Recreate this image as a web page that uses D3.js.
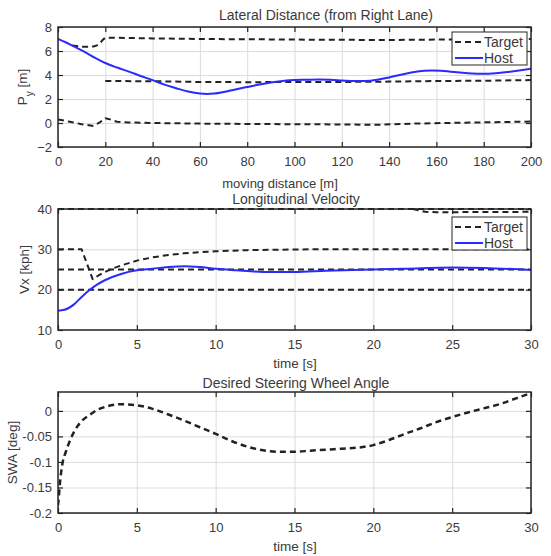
<!DOCTYPE html>
<html>
<head>
<meta charset="utf-8">
<script src="https://cdn.jsdelivr.net/npm/d3@7"></script>
<style>
  html, body { margin: 0; padding: 0; background: #ffffff; }
  svg { display: block; font-family: "Liberation Sans", Arial, sans-serif; }
</style>
</head>
<body>
<svg id="chart" width="551" height="556"></svg>
<script>
// ---------------- DATA ----------------
// Panel 1: Lateral Distance (from Right Lane)
const hostDist = [0,5,10,15,20,25,30,35,40,45,50,55,60,63,66,70,75,80,85,90,95,100,105,110,115,120,125,130,135,140,145,150,155,158,162,166,170,175,180,185,190,195,200];
const hostPy   = [7.0,6.55,6.05,5.5,5.0,4.62,4.28,3.92,3.57,3.2,2.9,2.62,2.45,2.42,2.45,2.58,2.8,3.0,3.2,3.38,3.5,3.58,3.6,3.62,3.6,3.55,3.5,3.5,3.6,3.8,4.02,4.22,4.35,4.38,4.36,4.28,4.2,4.12,4.1,4.15,4.25,4.38,4.52];

const tgtUpperDist = [6,10,13,15,17,18,19,20,25,40,60,80,100,120,140,160,180,200];
const tgtUpperPy   = [6.45,6.35,6.35,6.38,6.5,6.7,6.95,7.1,7.1,7.05,7.0,6.98,6.95,6.93,6.92,6.95,6.98,7.0];
const tgtMidDist   = [20,40,60,80,100,120,140,160,180,200];
const tgtMidPy     = [3.5,3.48,3.42,3.4,3.42,3.42,3.45,3.5,3.52,3.58];
const tgtLowDist   = [0,5,10,15,18,20,22,25,30,40,60,80,100,120,135,150,170,200];
const tgtLowPy     = [0.3,0.1,-0.1,-0.25,0.1,0.4,0.3,0.1,0.05,0.0,-0.05,-0.08,-0.1,-0.12,-0.15,-0.05,0.02,0.12];

const distTicks = [0,20,40,60,80,100,120,140,160,180,200];
const pyTicks   = [-2,0,2,4,6,8];

// Panel 2: Longitudinal Velocity
const hostTime = [0,0.4,1,1.5,2,2.5,3,4,5,6,7,8,9,10,11,12,13,15,17,20,22,25,27,30];
const hostVx   = [14.8,15.0,16.3,18.2,19.9,21.3,22.4,23.9,24.8,25.2,25.6,25.8,25.6,25.2,24.9,24.6,24.4,24.4,24.7,25.0,25.2,25.5,25.4,24.9];

const tgt40Time = [0,30];
const tgt40Vx   = [40,40];
const tgt39Time = [22.5,23.3,24,30];
const tgt39Vx   = [40,39.3,39.2,39.3];
const tgt30Time = [0,1.5,2.2,2.6,3,3.5,4,5,6,7,8,9,10,12,14,16,20,25,30];
const tgt30Vx   = [30,30,22.6,23.6,24.4,25.3,26.0,27.2,28.0,28.6,29.0,29.3,29.5,29.8,29.9,30,30,30,30];
const tgt25Time = [0,30];
const tgt25Vx   = [25,25];
const tgt20Time = [0,30];
const tgt20Vx   = [20,20];

const timeTicks = [0,5,10,15,20,25,30];
const vxTicks   = [10,20,30,40];

// Panel 3: Desired Steering Wheel Angle
const swaTime = [0,0.05,0.1,0.2,0.3,0.5,0.8,1,1.5,2,2.5,3,4,5,6,7,8,9,10,11,12,13,14,15,16,17,18,19,20,21,22,23,24,25,26,27,28,29,30];
const swaDeg  = [-0.185,-0.17,-0.15,-0.12,-0.1,-0.08,-0.055,-0.042,-0.02,-0.008,0.002,0.008,0.013,0.011,0.004,-0.007,-0.019,-0.032,-0.045,-0.059,-0.07,-0.077,-0.08,-0.08,-0.078,-0.076,-0.074,-0.072,-0.067,-0.057,-0.045,-0.034,-0.022,-0.012,-0.003,0.005,0.013,0.024,0.035];

const swaTicks      = [-0.2,-0.15,-0.1,-0.05,0];
const swaTickLabels = ["-0.2","-0.15","-0.1","-0.05","0"];

const legendLabels = ["Target","Host"];

// ---------------- DRAWING ----------------
const svg = d3.select("#chart");
const TXT = "#3a3a3a";
const AX = "#262626";
const HOST = "#2a2aff";
const TGT = "#222222";
const L = 58, R = 531;

function zip(xs, ys) { return xs.map((x, i) => [x, ys[i]]); }

function panel(cfg) {
  const x = d3.scaleLinear().domain(cfg.xDomain).range([L, R]);
  const y = d3.scaleLinear().domain(cfg.yDomain).range([cfg.bottom, cfg.top]);
  const h = cfg.bottom - cfg.top, w = R - L;
  const g = svg.append("g");

  // grid
  const gx = g.append("g").attr("transform", `translate(0,${cfg.bottom})`)
    .call(d3.axisBottom(x).tickValues(cfg.xTicks).tickSize(-h).tickFormat(""));
  const gy = g.append("g").attr("transform", `translate(${L},0)`)
    .call(d3.axisLeft(y).tickValues(cfg.yTicks).tickSize(-w).tickFormat(""));
  [gx, gy].forEach(a => {
    a.select(".domain").remove();
    a.selectAll("line").attr("stroke", "#dcdcdc").attr("stroke-width", 1);
  });

  // clip for data
  const cid = "clip" + cfg.id;
  svg.append("defs").append("clipPath").attr("id", cid)
    .append("rect").attr("x", L).attr("y", cfg.top - 2).attr("width", w).attr("height", h + 4);
  const dg = g.append("g").attr("clip-path", `url(#${cid})`);

  cfg.series.forEach(s => {
    const line = d3.line().x(d => x(d[0])).y(d => y(d[1]))
      .curve(s.smooth ? d3.curveMonotoneX : d3.curveLinear);
    dg.append("path").datum(zip(s.xs, s.ys))
      .attr("fill", "none")
      .attr("stroke", s.host ? HOST : TGT)
      .attr("stroke-width", s.host ? 2 : (s.width || 2))
      .attr("stroke-dasharray", s.host ? null : (s.dash || "6,4"))
      .attr("stroke-linejoin", "round")
      .attr("d", line);
  });

  // frame
  g.append("rect").attr("x", L).attr("y", cfg.top).attr("width", w).attr("height", h)
    .attr("fill", "none").attr("stroke", AX).attr("stroke-width", 1.5);

  // inner ticks on all four sides
  const tk = 5;
  const tb = g.append("g").attr("transform", `translate(0,${cfg.bottom})`)
    .call(d3.axisBottom(x).tickValues(cfg.xTicks).tickSize(-tk).tickFormat(""));
  const tt = g.append("g").attr("transform", `translate(0,${cfg.top})`)
    .call(d3.axisTop(x).tickValues(cfg.xTicks).tickSize(-tk).tickFormat(""));
  const tl = g.append("g").attr("transform", `translate(${L},0)`)
    .call(d3.axisLeft(y).tickValues(cfg.yTicks).tickSize(-tk).tickFormat(""));
  const tr = g.append("g").attr("transform", `translate(${R},0)`)
    .call(d3.axisRight(y).tickValues(cfg.yTicks).tickSize(-tk).tickFormat(""));
  [tb, tt, tl, tr].forEach(a => {
    a.select(".domain").remove();
    a.selectAll("line").attr("stroke", AX).attr("stroke-width", 1.2);
  });

  // tick labels
  const lx = g.append("g").attr("transform", `translate(0,${cfg.bottom})`)
    .call(d3.axisBottom(x).tickValues(cfg.xTicks).tickSize(0).tickPadding(10)
      .tickFormat(cfg.xFmt || d3.format("d")));
  const ly = g.append("g").attr("transform", `translate(${L},0)`)
    .call(d3.axisLeft(y).tickValues(cfg.yTicks).tickSize(0).tickPadding(6)
      .tickFormat(cfg.yFmt || d3.format("d")));
  [lx, ly].forEach(a => {
    a.select(".domain").remove();
    a.selectAll("text").attr("fill", TXT).style("font-size", "13px")
      .style("font-family", '"Liberation Sans", Arial, sans-serif');
  });

  // title
  g.append("text").attr("x", cfg.titleX).attr("y", cfg.titleY)
    .attr("text-anchor", "middle").attr("fill", TXT).style("font-size", "14px")
    .text(cfg.title);
  // x label
  g.append("text").attr("x", cfg.xLabelX).attr("y", cfg.xLabelY)
    .attr("text-anchor", "middle").attr("fill", TXT).style("font-size", cfg.xLabelSize || "13.5px")
    .text(cfg.xLabel);
  // y label
  const yl = g.append("text")
    .attr("transform", `translate(${cfg.yLabelX},${(cfg.top + cfg.bottom) / 2}) rotate(-90)`)
    .attr("text-anchor", "middle").attr("fill", TXT).style("font-size", "13.5px");
  cfg.yLabel(yl);

  // legend
  if (cfg.legend) {
    const lg = g.append("g");
    const b = cfg.legend;
    lg.append("rect").attr("x", b.x).attr("y", b.y).attr("width", b.w).attr("height", b.h)
      .attr("fill", "#ffffff").attr("stroke", AX).attr("stroke-width", 1);
    legendLabels.forEach((lab, i) => {
      const cy = b.y + 10 + i * 16;
      lg.append("line").attr("x1", b.x + 3).attr("x2", b.x + 31).attr("y1", cy).attr("y2", cy)
        .attr("stroke", i === 0 ? TGT : HOST).attr("stroke-width", 2)
        .attr("stroke-dasharray", i === 0 ? "6,4" : null);
      lg.append("text").attr("x", b.x + 32).attr("y", cy + 5)
        .attr("fill", TXT).style("font-size", "14px").text(lab);
    });
  }
}

panel({
  id: 1, xDomain: [0, 200], yDomain: [-2, 8], top: 27, bottom: 147,
  xTicks: distTicks, yTicks: pyTicks,
  title: "Lateral Distance (from Right Lane)", titleX: 326, titleY: 20,
  xLabel: "moving distance [m]", xLabelX: 280, xLabelY: 188, xLabelSize: "13px",
  yLabelX: 27,
  yLabel: t => { t.append("tspan").text("P"); t.append("tspan").attr("baseline-shift", "sub").style("font-size", "10px").text("y"); t.append("tspan").text(" [m]"); },
  legend: { x: 452, y: 32, w: 75, h: 33 },
  series: [
    { xs: tgtUpperDist, ys: tgtUpperPy },
    { xs: tgtMidDist, ys: tgtMidPy },
    { xs: tgtLowDist, ys: tgtLowPy },
    { xs: hostDist, ys: hostPy, host: true, smooth: true }
  ]
});

panel({
  id: 2, xDomain: [0, 30], yDomain: [10, 40], top: 209, bottom: 330,
  xTicks: timeTicks, yTicks: vxTicks,
  title: "Longitudinal Velocity", titleX: 296, titleY: 204,
  xLabel: "time [s]", xLabelX: 295, xLabelY: 368,
  yLabelX: 29,
  yLabel: t => t.text("Vx [kph]"),
  legend: { x: 452, y: 217, w: 75, h: 33 },
  series: [
    { xs: tgt40Time, ys: tgt40Vx },
    { xs: tgt39Time, ys: tgt39Vx },
    { xs: tgt30Time, ys: tgt30Vx },
    { xs: tgt25Time, ys: tgt25Vx },
    { xs: tgt20Time, ys: tgt20Vx },
    { xs: hostTime, ys: hostVx, host: true, smooth: true }
  ]
});

panel({
  id: 3, xDomain: [0, 30], yDomain: [-0.2, 0.037], top: 392, bottom: 513,
  xTicks: timeTicks, yTicks: swaTicks,
  yFmt: (d, i) => swaTickLabels[i],
  title: "Desired Steering Wheel Angle", titleX: 296, titleY: 388,
  xLabel: "time [s]", xLabelX: 295, xLabelY: 551,
  yLabelX: 17,
  yLabel: t => t.text("SWA [deg]"),
  series: [
    { xs: swaTime, ys: swaDeg, smooth: true, dash: "6,4", width: 2.5 }
  ]
});
</script>
</body>
</html>
